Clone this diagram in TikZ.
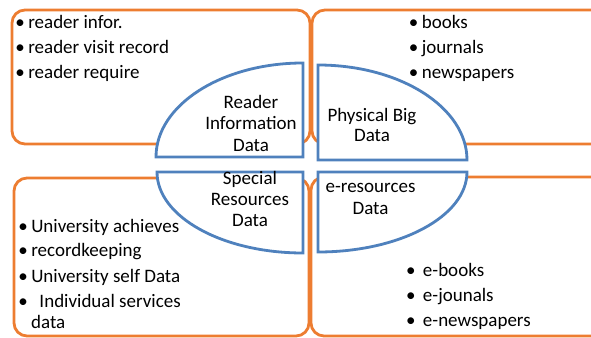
\documentclass[tikz,border=0pt]{standalone}
\usepackage{fontspec}
\setmainfont{Carlito}
\definecolor{obox}{HTML}{ED7D31}
\definecolor{bquad}{HTML}{4F81BD}
\tikzset{
  orangebox/.style={draw=obox, line width=2.8pt, rounded corners=13pt},
  quad/.style={draw=bquad, line width=2.8pt, fill=white},
  itemtxt/.style={font=\fontsize{19}{21.5}\selectfont, inner sep=0pt, anchor=base west},
  lbltxt/.style={font=\fontsize{19}{21.5}\selectfont, inner sep=0pt, anchor=base}
}
\newcommand{\bul}[1][8.3pt]{\makebox[0pt][c]{\textbullet}\hspace{#1}}
\begin{document}
\begin{tikzpicture}[x=1pt,y=1pt]
\useasboundingbox (0,0) rectangle (591,337);
\clip (0,0) rectangle (591,337);
% orange boxes
\draw[orangebox] (12,193) rectangle (310,327);
\draw[orangebox] (312,193) rectangle (630,327);
\draw[orangebox] (14,1) rectangle (309,159);
\draw[orangebox] (311,1) rectangle (630,160);
% blue quarter ellipses
\draw[quad] (303,180) -- (303,274) arc[start angle=90, end angle=180, x radius=147, y radius=94] -- cycle;
\draw[quad] (318,177) -- (318,272) arc[start angle=90, end angle=0, x radius=149, y radius=95] -- cycle;
\draw[quad] (303,165) -- (157,165) arc[start angle=180, end angle=270, x radius=146, y radius=81] -- cycle;
\draw[quad] (318,165) -- (467,165) arc[start angle=0, end angle=-90, x radius=149, y radius=80] -- cycle;
% quarter labels
\node[lbltxt] (ri1) at (251,228) {Reader};
\node[lbltxt] (ri2) at (251,207) {Information};
\node[lbltxt] (ri3) at (251,185) {Data};
\node[lbltxt] (pb1) at (372,215) {Physical Big};
\node[lbltxt] (pb2) at (372,195) {Data};
\node[lbltxt] (sr1) at (250,152) {Special};
\node[lbltxt] (sr2) at (250,131) {Resources};
\node[lbltxt] (sr3) at (250,110) {Data};
\node[lbltxt] (er1) at (370.5,144) {e-resources};
\node[lbltxt] (er2) at (370.5,122) {Data};
% top-left list
\node[itemtxt] (tl1) at (19.8,308) {\bul reader infor.};
\node[itemtxt] (tl2) at (19.8,283) {\bul reader visit record};
\node[itemtxt] (tl3) at (19.8,258) {\bul reader require};
% top-right list
\node[itemtxt] (tr1) at (413.3,308) {\bul books};
\node[itemtxt] (tr2) at (413.3,283) {\bul journals};
\node[itemtxt] (tr3) at (413.3,258) {\bul newspapers};
% bottom-left list
\node[itemtxt] (bl1) at (22.8,104) {\bul University achieves};
\node[itemtxt] (bl2) at (22.8,80) {\bul recordkeeping};
\node[itemtxt] (bl3) at (22.8,54) {\bul University self Data};
\node[itemtxt] (bl4) at (22.8,30) {\bul[12.2pt] Individual services};
\node[itemtxt] (bl5) at (31,9) {data};
% bottom-right list
\node[itemtxt] (br1) at (410.7,60) {\bul[7.8pt] e-books};
\node[itemtxt] (br2) at (410.7,35) {\bul[7.8pt] e-jounals};
\node[itemtxt] (br3) at (410.7,10) {\bul[7.8pt] e-newspapers};
\end{tikzpicture}
\end{document}
